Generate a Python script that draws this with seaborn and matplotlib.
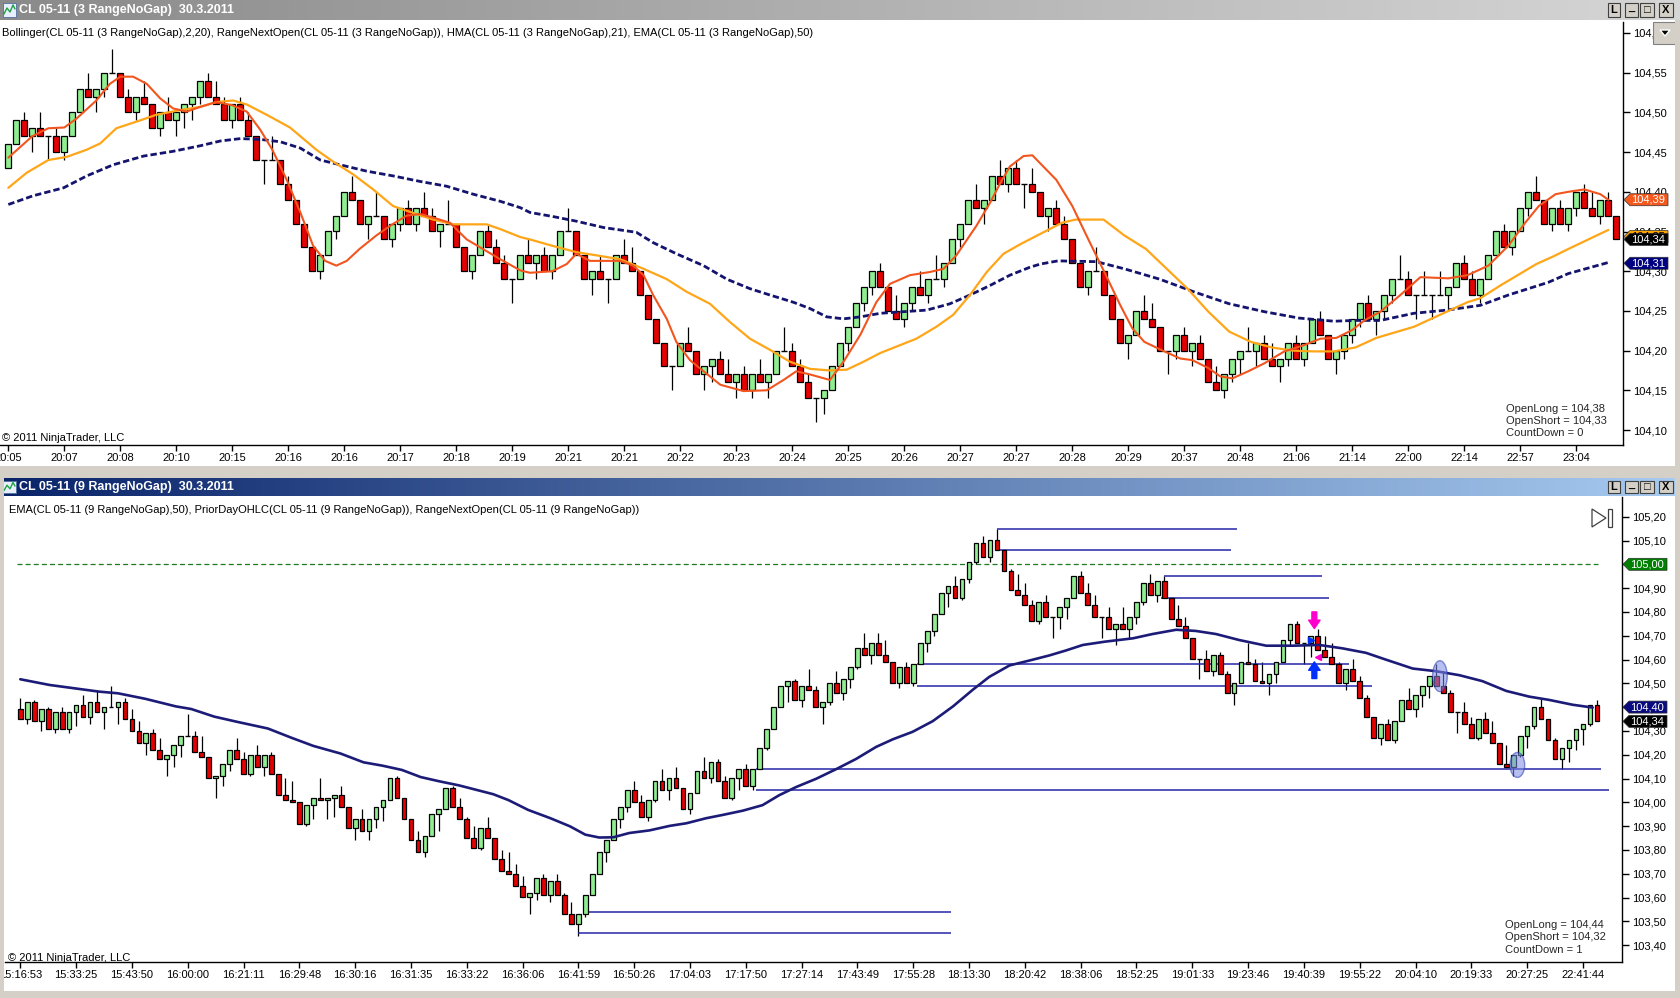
"""
NinjaTrader style double chart: CL 05-11, 3 and 9 RangeNoGap bars.
Top: candles with HMA(21), SMA(20) and EMA(50).
Bottom: candles with EMA(50) and prior-day / range lines.
"""

import numpy as np
import pandas as pd
import matplotlib
matplotlib.use("Agg")
import matplotlib.pyplot as plt
from matplotlib.patches import Rectangle, Ellipse, Polygon
from matplotlib.colors import LinearSegmentedColormap
import seaborn as sns

W, H = 1680, 998

# DATA #########################################################################
# top chart (3 RangeNoGap): prices in ticks of 0.01 above TOP_BASE
TOP_BASE = 104.18
TOP_OPEN0 = 25
top_close = [28, 31, 29, 30, 29, 29, 27, 29, 32, 35,
             34, 35, 37, 37, 34, 32, 34, 33, 30, 32,
             31, 32, 33, 34, 36, 34, 33, 31, 33, 31,
             29, 26, 26, 26, 23, 21, 18, 15, 12, 14,
             17, 19, 22, 21, 18, 19, 19, 16, 18, 20,
             18, 20, 19, 17, 18, 18, 15, 12, 14, 17,
             15, 13, 11, 11, 14, 13, 14, 12, 14, 17,
             17, 14, 11, 12, 11, 11, 14, 13, 12, 9,
             6, 3, 0, 0, 3, 2, -1, 0, 1, -1,
             -2, -1, -3, -1, -2, -1, 2, 2, 0, -2,
             -4, -4, -3, 0, 3, 5, 8, 10, 12, 10,
             7, 6, 8, 10, 9, 11, 11, 13, 16, 18,
             21, 20, 21, 24, 23, 25, 23, 23, 22, 19,
             20, 18, 16, 13, 10, 12, 12, 9, 6, 3,
             4, 7, 6, 5, 2, 2, 4, 2, 3, 1,
             -2, -3, -1, 1, 2, 2, 3, 1, 0, 1,
             3, 1, 3, 6, 4, 1, 2, 4, 6, 8,
             6, 7, 9, 11, 11, 9, 9, 9, 9, 9,
             10, 13, 11, 9, 11, 14, 17, 15, 17, 20,
             22, 21, 18, 20, 18, 20, 22, 20, 19, 21,
             19, 16]
# far end of the wick (opposite the close)
top_wick = [25, 28, 32, 27, 32, 26, 30, 26, 29, 32,
            37, 32, 34, 40, 37, 35, 31, 36, 33, 29,
            34, 29, 30, 31, 33, 37, 36, 34, 30, 34,
            32, 29, 23, 29, 26, 24, 21, 18, 15, 11,
            14, 16, 19, 24, 21, 16, 22, 19, 15, 17,
            21, 17, 22, 20, 15, 21, 18, 15, 11, 14,
            18, 16, 14, 8, 11, 16, 11, 15, 11, 14,
            20, 17, 14, 9, 14, 8, 11, 16, 15, 12,
            9, 6, 3, -3, 0, 5, 2, -3, -2, 2,
            1, -4, 0, -4, 1, -4, -1, 5, 3, 1,
            -1, -7, -6, -3, 0, 2, 5, 7, 9, 13,
            10, 9, 5, 7, 12, 8, 14, 10, 13, 15,
            18, 23, 18, 21, 26, 22, 26, 20, 25, 22,
            17, 21, 19, 16, 13, 9, 15, 12, 9, 6,
            1, 4, 9, 8, 5, -1, 1, 5, 0, 4,
            1, 0, -4, -2, -1, 5, 0, 4, 3, -2,
            0, 4, 0, 3, 7, 4, -1, 1, 3, 5,
            9, 4, 6, 8, 14, 12, 6, 12, 6, 12,
            7, 10, 14, 12, 8, 11, 14, 18, 14, 17,
            19, 24, 21, 17, 21, 17, 19, 23, 22, 18,
            22, 19]

# indicator lines (bar index, ticks above TOP_BASE)
hma_bar = [0, 3, 5, 7, 8.5, 11, 12.7, 14, 15.6, 17.3, 19, 20.6, 22.3, 24, 26, 28,
           29.8, 31.5, 33, 34.8, 36.5, 38.1, 39.6, 41, 42.3, 43.9, 46, 48, 49.8,
           51.5, 53.1, 55.2, 57.3, 59.4, 61.5, 64, 65.2, 68, 69.8, 71, 72.7, 74.4,
           76.5, 78.1, 79.4, 80.6, 82.3, 83.5, 85.2, 86.9, 89, 91.9, 94.8, 96.9,
           98.5, 100.2, 102.7, 104.4, 106.5, 108.5, 110.2, 112.7, 115.2, 116.9,
           118.5, 121, 122.7, 124, 125.2, 126.9, 128, 131, 133, 135, 137, 139,
           140.5, 142, 144.5, 146.5, 148, 150, 151.5, 153, 155, 157, 159.5, 162,
           164, 166, 168, 169.5, 171.5, 174, 176.5, 180, 182.4, 185, 187.5, 189.6,
           191.3, 193.4, 195, 197, 199, 200]
hma_tick = [26.3, 29.0, 30.0, 30.1, 31.2, 33.5, 35.6, 36.5, 36.5, 35.6, 33.75, 32.5,
            32.1, 32.7, 33.3, 32.9, 32.1, 29.8, 27.3, 23.5, 19.4, 15.2, 13.3, 12.7,
            13.3, 14.8, 16.5, 17.9, 19.0, 19.2, 18.75, 18.1, 16.0, 14.75, 13.5, 12.1,
            11.8, 12.0, 12.9, 14.2, 13.3, 13.3, 13.3, 12.7, 11.5, 9.0, 6.0, 3.1, 0.8,
            -0.6, -2.3, -3.1, -3.0, -1.7, -0.6, -1.0, -1.7, 0.6, 4.0, 8.1, 10.4, 11.5,
            11.9, 12.3, 14.0, 17.7, 20.6, 23.1, 25.2, 26.5, 26.6, 23.5, 20.2, 16.0,
            11.9, 7.7, 4.8, 3.1, 1.9, 1.0, 0.8, -0.2, -1.25, -1.5, -0.6, 0.4, 1.9,
            2.7, 3.5, 3.6, 4.6, 5.8, 6.9, 9.0, 11.25, 11.1, 11.5, 12.7, 15.2, 18.1,
            20.2, 21.7, 22.0, 22.3, 21.7, 21.0]
sma_bar = [0, 2.3, 5, 7.3, 9.8, 11.5, 13.5, 16.5, 18.5, 21.5, 24, 26, 28.1, 29.8,
           32.3, 35.2, 38.5, 40.6, 43.1, 45.6, 48.1, 51, 53.1, 55.6, 58.1, 59.8,
           61.5, 64, 65.2, 68, 71, 73.5, 76.5, 79.4, 82.3, 84.8, 87.7, 90.2, 92.7,
           95.2, 97.7, 100.2, 102.7, 104.8, 106.9, 109, 111, 113.5, 116, 118.1,
           120.2, 122.3, 124.4, 126.5, 129, 131.7, 133.4, 136.9, 139.5, 142.2,
           144.8, 147.4, 150, 152.6, 155.3, 157.9, 160.5, 163.1, 165.7, 168.4, 171,
           175.7, 179.8, 182.4, 184, 186.5, 189, 191, 193.2, 195, 197.5, 200]
sma_tick = [22.5, 24.4, 26, 26.4, 27.3, 28.1, 30, 31, 31.7, 32.3, 32.7, 33.3, 33.5,
            33, 31.7, 30.1, 27.3, 25.8, 24.2, 22.3, 20.2, 19.2, 18.5, 17.9, 17.9,
            17.9, 17.3, 16.3, 16, 15.2, 14.4, 14, 13.5, 12.3, 11, 9.4, 7.9, 5.6, 3.5,
            2.1, 0.6, -0.3, -0.5, -0.4, 0.6, 1.7, 2.5, 3.5, 5, 6.5, 9, 11.9, 14.2,
            15.4, 16.7, 18.1, 18.5, 18.5, 16.5, 14.8, 12.3, 9.8, 6.9, 4.4, 3.1, 2.4,
            2, 1.9, 1.9, 2.4, 3.6, 5, 6.9, 8.1, 8.6, 10.2, 11.7, 12.9, 13.9, 14.8,
            16, 17.2]
ema_bar = [0, 3.1, 6.9, 9.8, 13.1, 16.9, 20.6, 24, 26.5, 29, 31.5, 34, 36.5, 39,
           41.9, 44.8, 48.1, 51.5, 54.8, 58.1, 61.5, 64, 65.2, 68, 71, 74.4, 78.5,
           80.6, 83.5, 86.9, 89.8, 92.7, 95.2, 98.1, 100.2, 102.3, 104.4, 106.5,
           109, 111.9, 114.8, 117.7, 120.2, 122.7, 125.2, 127.7, 129, 131.2, 136,
           139.5, 143.9, 148.2, 152.6, 157, 161.3, 165.7, 168.3, 171.5, 175.7,
           179.8, 184, 187.5, 190, 192.5, 195, 197.5, 200]
ema_tick = [20.4, 21.5, 22.5, 24, 25.4, 26.5, 27.1, 27.8, 28.4, 28.7, 28.6, 28.3,
            27.5, 26, 25.3, 24.6, 24, 23.3, 22.7, 21.7, 20.8, 20, 19.4, 18.9, 18.3,
            17.5, 16.9, 15.6, 14.2, 12.7, 11, 9.8, 9, 8.1, 7.3, 6.25, 6, 6.25, 6.7,
            6.9, 7.1, 7.9, 9, 10.2, 11.5, 12.5, 12.9, 13.3, 13.2, 12.3, 11, 9.4, 7.9,
            6.9, 6.1, 5.7, 5.8, 5.8, 6.7, 7.1, 7.7, 9, 9.8, 10.6, 11.7, 12.4, 13.1]

top_times = ["20:05", "20:07", "20:08", "20:10", "20:15", "20:16", "20:16", "20:17",
             "20:18", "20:19", "20:21", "20:21", "20:22", "20:23", "20:24", "20:25",
             "20:26", "20:27", "20:27", "20:28", "20:29", "20:37", "20:48", "21:06",
             "21:14", "22:00", "22:14", "22:57", "23:04"]
top_price_ticks = [104.10, 104.15, 104.20, 104.25, 104.30, 104.35, 104.40,
                   104.45, 104.50, 104.55, 104.60]
top_tags = [(104.39, "#F4581C", "white"), (104.35, "#FFA500", "black"),
            (104.34, "black", "white"), (104.31, "#000080", "white")]
top_info = ["OpenLong = 104,38", "OpenShort = 104,33", "CountDown = 0"]

# bottom chart (9 RangeNoGap): ticks of 0.01 above BOT_BASE
BOT_BASE = 103.40
BOT_OPEN0 = 99
bot_close = [95, 102, 94, 99, 91, 98, 91, 98, 101, 96,
             102, 98, 100, 100, 102, 95, 90, 85, 89, 82,
             78, 80, 84, 88, 88, 81, 79, 70, 71, 76,
             82, 78, 72, 80, 75, 80, 72, 63, 61, 60,
             51, 59, 62, 61, 62, 63, 58, 49, 53, 48,
             53, 58, 61, 70, 62, 53, 44, 39, 46, 55,
             57, 66, 58, 53, 45, 41, 49, 45, 36, 31,
             30, 25, 20, 22, 28, 21, 27, 21, 13, 9,
             13, 21, 30, 39, 44, 53, 58, 65, 60, 54,
             61, 69, 65, 70, 66, 57, 64, 73, 70, 77,
             69, 62, 70, 74, 67, 74, 83, 91, 100, 109,
             111, 103, 109, 107, 100, 102, 110, 106, 112, 117,
             125, 122, 127, 122, 119, 110, 117, 110, 118, 127,
             132, 139, 148, 151, 146, 154, 161, 169, 163, 170,
             166, 157, 149, 147, 143, 136, 144, 138, 138, 142,
             146, 155, 148, 143, 138, 138, 133, 135, 133, 138,
             144, 152, 147, 153, 146, 137, 134, 129, 120, 120,
             115, 122, 114, 106, 110, 119, 118, 111, 110, 114,
             119, 128, 135, 127, 127, 130, 124, 121, 118, 110,
             116, 111, 104, 96, 87, 93, 86, 94, 103, 99,
             105, 109, 113, 109, 106, 98, 98, 93, 87, 95,
             89, 85, 76, 75, 80, 88, 92, 100, 95, 86,
             78, 83, 86, 91, 93, 101, 94]
bot_wick = [104, 93, 103, 90, 100, 89, 100, 89, 92, 105,
            93, 107, 91, 109, 93, 104, 99, 94, 80, 91,
            87, 71, 75, 79, 97, 90, 88, 79, 62, 67,
            73, 87, 81, 71, 84, 71, 81, 72, 70, 69,
            60, 50, 53, 70, 53, 54, 67, 58, 44, 57,
            44, 49, 52, 61, 71, 62, 53, 48, 37, 46,
            48, 57, 67, 62, 54, 50, 40, 54, 45, 40,
            39, 34, 29, 13, 19, 30, 18, 30, 22, 18,
            4, 12, 21, 30, 35, 44, 49, 56, 69, 63,
            52, 60, 74, 61, 75, 66, 55, 64, 79, 68,
            78, 71, 61, 65, 76, 65, 74, 82, 91, 100,
            102, 112, 100, 116, 109, 93, 101, 115, 103, 108,
            116, 131, 118, 131, 128, 119, 108, 119, 109, 118,
            123, 130, 139, 142, 155, 145, 152, 160, 172, 161,
            175, 166, 158, 156, 152, 145, 135, 147, 129, 133,
            137, 146, 157, 152, 147, 129, 142, 126, 142, 129,
            135, 143, 156, 144, 155, 146, 143, 138, 129, 112,
            124, 113, 123, 115, 101, 110, 127, 120, 119, 105,
            110, 119, 126, 136, 118, 121, 133, 130, 127, 119,
            107, 120, 113, 105, 96, 84, 95, 85, 94, 108,
            96, 100, 104, 118, 115, 107, 89, 102, 96, 86,
            98, 94, 85, 84, 71, 79, 83, 91, 104, 95,
            87, 74, 77, 82, 84, 92, 103]
bema_bar = [0, 4.2, 11.3, 14, 17.9, 22.3, 24.5, 27.8, 31.1, 35.5, 38.8, 42, 45.9,
            49.2, 51.9, 54.7, 57.4, 60.1, 62.9, 67.8, 70, 72.8, 76, 78.8, 81, 83,
            85, 87.3, 90.2, 93.1, 95.5, 98.3, 100.7, 103.6, 106.4, 108.8, 111.2,
            114.1, 117, 119.8, 122.7, 125.1, 127.9, 130.8, 133.7, 136.5, 138.9,
            141.8, 144.7, 147.5, 149.9, 152.3, 155.5, 159.5, 162.3, 165.7, 168.5,
            171.4, 174.7, 178.6, 182.4, 186.2, 189.5, 192.9, 195.7, 199.6, 202.9,
            206.3, 209.6, 213, 216.3, 219.2, 222.5, 225.4]
bema_tick = [111.7, 109.3, 106.5, 105.8, 103.5, 100.3, 99.2, 96, 93.8, 91, 87.2,
             83.7, 80.5, 76.8, 75.4, 73.6, 70.6, 68.8, 67.1, 63.4, 60.9, 56.8, 53.3,
             49.9, 46.4, 45.2, 45.3, 47.1, 48.2, 50.1, 51.2, 53.3, 54.7, 56.5, 58.8,
             63, 66.4, 69.9, 74, 78.2, 83.3, 86.5, 89.6, 94.1, 100.3, 107.2, 112.7,
             117.5, 119.6, 121.7, 123.8, 126.1, 127.5, 128.9, 130.7, 132.5, 132,
             130.7, 128.2, 125.8, 125.8, 126.1, 124.7, 122.8, 120, 116.2, 115.1,
             113.4, 110.9, 106.8, 104.4, 103, 101, 99.8]
# horizontal level segments (ticks, first bar, last bar)
seg_tick = [175, 166, 155, 146, 118, 109, 74, 65, 14, 5]
seg_from = [140, 140.5, 164, 163.5, 128.5, 128.5, 105.4, 105.4, 80.8, 80]
seg_to = [174.4, 173.6, 186.6, 187.6, 190.5, 193.7, 226.6, 227.8, 133.4, 133.4]
LEVEL_105 = 105.00
# marked bars (bar, ticks center, ticks height)
circle_bar = [203.5, 214.6]
circle_tick = [113, 75.7]
circle_span = [13, 10.5]
# entry arrows around bar 185 (bar, tail ticks, tip ticks)
arrow_dn = (185.5, 140, 133)
arrow_up = (185.5, 112, 119)
tri_right = (185.0, 128.3)
tri_left = (186.0, 121.0)

bot_times = ["15:16:53", "15:33:25", "15:43:50", "16:00:00", "16:21:11", "16:29:48",
             "16:30:16", "16:31:35", "16:33:22", "16:36:06", "16:41:59", "16:50:26",
             "17:04:03", "17:17:50", "17:27:14", "17:43:49", "17:55:28", "18:13:30",
             "18:20:42", "18:38:06", "18:52:25", "19:01:33", "19:23:46", "19:40:39",
             "19:55:22", "20:04:10", "20:19:33", "20:27:25", "22:41:44"]
bot_price_ticks = [103.40, 103.50, 103.60, 103.70, 103.80, 103.90, 104.00, 104.10,
                   104.20, 104.30, 104.40, 104.50, 104.60, 104.70, 104.80, 104.90,
                   105.00, 105.10, 105.20]
bot_tags = [(105.00, "#008000", "white"), (104.40, "#0A0A80", "white"),
            (104.34, "black", "white")]
bot_info = ["OpenLong = 104,44", "OpenShort = 104,32", "CountDown = 1"]

TOP_TITLE = "CL 05-11 (3 RangeNoGap)  30.3.2011"
BOT_TITLE = "CL 05-11 (9 RangeNoGap)  30.3.2011"
TOP_LEGEND = ("Bollinger(CL 05-11 (3 RangeNoGap),2,20), RangeNextOpen(CL 05-11 "
              "(3 RangeNoGap)), HMA(CL 05-11 (3 RangeNoGap),21), EMA(CL 05-11 "
              "(3 RangeNoGap),50)")
BOT_LEGEND = ("EMA(CL 05-11 (9 RangeNoGap),50), PriorDayOHLC(CL 05-11 (9 RangeNoGap)), "
              "RangeNextOpen(CL 05-11 (9 RangeNoGap))")
COPYRIGHT = "\u00a9 2011 NinjaTrader, LLC"

# STYLE ########################################################################
sns.set_theme(style="white")
plt.rcParams["font.family"] = ["Liberation Sans", "DejaVu Sans"]
plt.rcParams["axes.linewidth"] = 1.0

UP = "#90EE90"
DOWN = "#E60000"
FRAME = "#D4D0C8"
PINK = "#FF00CC"
BLUE = "#0030FF"


def px_axes(fig, x0, y0, x1, y1):
    return fig.add_axes([x0 / W, 1 - y1 / H, (x1 - x0) / W, (y1 - y0) / H])


def fig_rect(fig, x0, y0, x1, y1, **kw):
    fig.add_artist(Rectangle((x0 / W, 1 - y1 / H), (x1 - x0) / W, (y1 - y0) / H,
                             transform=fig.transFigure, **kw))


def fig_text(fig, x, y, s, **kw):
    fig.text(x / W, 1 - y / H, s, **kw)


def title_bar(fig, y0, y1, colors, title):
    ax = px_axes(fig, 0, y0, W, y1)
    cmap = LinearSegmentedColormap.from_list("bar", colors)
    ax.imshow(np.linspace(0, 1, 256)[None, :], cmap=cmap, aspect="auto",
              extent=(0, 1, 0, 1))
    ax.set_axis_off()
    # small window icon
    ax.add_patch(Rectangle((3 / W, 0.15), 13 / W, 0.7, transform=ax.transAxes,
                           fc="#E8F0FF", ec="#5070A0", lw=0.6))
    ax.plot(np.array([4, 7, 10, 13, 15]) / W, [0.3, 0.6, 0.4, 0.75, 0.55],
            transform=ax.transAxes, color="#20A040", lw=1)
    ax.text(19 / W, 0.5, title, transform=ax.transAxes, ha="left", va="center",
            color="white", fontsize=9, fontweight="bold")
    for (bx0, bx1), glyph in zip([(1608, 1620), (1625, 1638), (1640, 1654), (1659, 1673)],
                                 ["L", "_", "\u25a1", "X"]):
        ax.add_patch(Rectangle((bx0 / W, 0.15), (bx1 - bx0) / W, 0.7,
                               transform=ax.transAxes, fc=FRAME, ec="#404040", lw=0.8))
        ax.text((bx0 + bx1) / 2 / W, 0.5 if glyph != "_" else 0.62, glyph,
                transform=ax.transAxes, ha="center", va="center", fontsize=8,
                fontweight="bold", color="black")


def draw_candles(ax, base, open0, closes, wicks, width):
    ct = np.asarray(closes)
    ot = np.concatenate([[open0], ct[:-1]])
    wt = np.asarray(wicks)
    c = base + 0.01 * ct
    o = base + 0.01 * ot
    hi = base + 0.01 * np.maximum.reduce([ot, ct, wt])
    lo = base + 0.01 * np.minimum.reduce([ot, ct, wt])
    x = np.arange(len(ct))
    ax.vlines(x, lo, hi, color="black", lw=0.9, zorder=2)
    up, dn, dj = ct > ot, ct < ot, ct == ot
    ax.bar(x[up], (c - o)[up], bottom=o[up], width=width, color=UP,
           edgecolor="black", lw=0.9, zorder=3)
    ax.bar(x[dn], (o - c)[dn], bottom=c[dn], width=width, color=DOWN,
           edgecolor="black", lw=0.9, zorder=3)
    ax.hlines(c[dj], x[dj] - width / 2, x[dj] + width / 2, color="black",
              lw=1.0, zorder=3)


def price_tag(ax, price, label, fc, tc, dy_px=0.0):
    pos = ax.get_position()
    w_px, h_px = pos.width * W, pos.height * H
    y0, y1 = ax.get_ylim()
    ys = (y1 - y0) / h_px
    xs = 1.0 / w_px
    p = price - dy_px * ys
    pts = [(1 + 1 * xs, p), (1 + 7 * xs, p + 6 * ys), (1 + 45 * xs, p + 6 * ys),
           (1 + 45 * xs, p - 6 * ys), (1 + 7 * xs, p - 6 * ys)]
    tr = ax.get_yaxis_transform()
    ax.add_patch(Polygon(pts, closed=True, transform=tr, clip_on=False, fc=fc,
                         ec="#303030", lw=0.5, zorder=8))
    ax.text(1 + 8 * xs, p, label, transform=tr, ha="left", va="center",
            fontsize=8, color=tc, zorder=9, clip_on=False)


def style_axes(ax, ticks, labels, xt, xl):
    for side in ["left", "top"]:
        ax.spines[side].set_visible(False)
    for side in ["right", "bottom"]:
        ax.spines[side].set_color("black")
        ax.spines[side].set_linewidth(1.0)
    ax.set_facecolor("white")
    ax.yaxis.tick_right()
    ax.set_yticks(ticks)
    ax.set_yticklabels(labels)
    ax.set_xticks(xt)
    ax.set_xticklabels(xl)
    ax.tick_params(axis="y", right=True, left=False, direction="out", length=5,
                   width=1, pad=2, labelsize=8, colors="black")
    ax.tick_params(axis="x", bottom=True, direction="out", length=4, width=1,
                   pad=2, labelsize=8, colors="black")
    ax.grid(False)


def fmt(p):
    return f"{p:.2f}".replace(".", ",")


def main():
    fig = plt.figure(figsize=(W / 100, H / 100), dpi=100)
    fig.patch.set_facecolor(FRAME)

    # window client areas
    fig_rect(fig, 0, 20, 1675, 467, fc="white", ec="none", zorder=-5)
    fig_rect(fig, 4, 496, 1675, 991, fc="white", ec="none", zorder=-5)

    title_bar(fig, 0, 20, ["#8A8A8A", "#D6D6D6"], TOP_TITLE)
    title_bar(fig, 478, 496, ["#0A246A", "#A6CAF0"], BOT_TITLE)

    # TOP CHART ################################################################
    ax1 = px_axes(fig, 0, 22, 1623, 445)
    ax1.set_xlim(-1.04, 201.83)
    ax1.set_ylim(104.10 + (430 - 445) / 794, 104.10 + (430 - 22) / 794)
    draw_candles(ax1, TOP_BASE, TOP_OPEN0, top_close, top_wick, 0.75)

    df_sma = pd.DataFrame({"bar": sma_bar, "price": TOP_BASE + 0.01 * np.array(sma_tick)})
    df_hma = pd.DataFrame({"bar": hma_bar, "price": TOP_BASE + 0.01 * np.array(hma_tick)})
    df_ema = pd.DataFrame({"bar": ema_bar, "price": TOP_BASE + 0.01 * np.array(ema_tick)})
    sns.lineplot(data=df_ema, x="bar", y="price", ax=ax1, color="#14146E", lw=2.0,
                 sort=False, estimator=None, zorder=4)
    ax1.lines[-1].set_linestyle((0, (2.3, 1.1)))
    sns.lineplot(data=df_sma, x="bar", y="price", ax=ax1, color="#FFA518", lw=1.6,
                 sort=False, estimator=None, zorder=4)
    sns.lineplot(data=df_hma, x="bar", y="price", ax=ax1, color="#F2551E", lw=1.5,
                 sort=False, estimator=None, zorder=5)
    ax1.set(xlabel="", ylabel="")

    style_axes(ax1, top_price_ticks, [fmt(p) for p in top_price_ticks],
               np.arange(len(top_times)) * 7, top_times)
    for price, fc, tc in top_tags:
        price_tag(ax1, price, fmt(price), fc, tc, dy_px=5 if fc == "#FFA500" else 0)

    ax1.text(2 / 1623, 1 - 11 / 423, TOP_LEGEND, transform=ax1.transAxes,
             ha="left", va="center", fontsize=8, color="black")
    ax1.text(2 / 1623, 7 / 423, COPYRIGHT, transform=ax1.transAxes,
             ha="left", va="center", fontsize=8, color="black")
    for i, s in enumerate(top_info):
        fig_text(fig, 1506, 409 + 12 * i, s, ha="left", va="center", fontsize=8)

    # dropdown button
    fig_rect(fig, 1653, 22, 1676, 44, fc=FRAME, ec="#808080", lw=0.8, zorder=5)
    fig.add_artist(Polygon([(1660 / W, 1 - 30 / H), (1670 / W, 1 - 30 / H),
                            (1665 / W, 1 - 36 / H)], closed=True,
                           transform=fig.transFigure, fc="black", zorder=6))

    # BOTTOM CHART #############################################################
    ax2 = px_axes(fig, 5, 497, 1622, 962)
    ax2.set_xlim(-2.19, 229.6)
    ax2.set_ylim(105.20 - (962 - 516.7) / 238, 105.20 + (516.7 - 497) / 238)
    draw_candles(ax2, BOT_BASE, BOT_OPEN0, bot_close, bot_wick, 0.68)

    ax2.hlines(LEVEL_105, -0.5, 226.2, color="#1E7A1E", lw=0.9,
               linestyles=(0, (4, 2.5)), zorder=1)
    ax2.hlines(BOT_BASE + 0.01 * np.array(seg_tick), seg_from, seg_to,
               color="#2424A8", lw=1.1, zorder=2)

    df_bema = pd.DataFrame({"bar": bema_bar, "price": BOT_BASE + 0.01 * np.array(bema_tick)})
    sns.lineplot(data=df_bema, x="bar", y="price", ax=ax2, color="#1C1C78", lw=1.9,
                 sort=False, estimator=None, zorder=5)
    ax2.set(xlabel="", ylabel="")

    for b, t, s in zip(circle_bar, circle_tick, circle_span):
        ax2.add_patch(Ellipse((b, BOT_BASE + 0.01 * t), 2.1, 0.01 * s,
                              fc="#7D8CE6", ec="#2A3AB0", alpha=0.55, lw=1, zorder=6))

    arrow_style = "simple,head_length=0.55,head_width=0.75,tail_width=0.32"
    for (bx, tail, tip), col in [(arrow_dn, PINK), (arrow_up, BLUE)]:
        ax2.annotate("", xy=(bx, BOT_BASE + 0.01 * tip),
                     xytext=(bx, BOT_BASE + 0.01 * tail),
                     arrowprops=dict(arrowstyle=arrow_style, fc=col, ec=col,
                                     mutation_scale=11, shrinkA=0, shrinkB=0),
                     zorder=7)
    ax2.plot(tri_right[0], BOT_BASE + 0.01 * tri_right[1], marker=">", ms=4.5,
             color=BLUE, zorder=7)
    ax2.plot(tri_left[0], BOT_BASE + 0.01 * tri_left[1], marker="<", ms=4.5,
             color=PINK, zorder=7)

    style_axes(ax2, bot_price_ticks, [fmt(p) for p in bot_price_ticks],
               np.arange(len(bot_times)) * 8, bot_times)
    for price, fc, tc in bot_tags:
        price_tag(ax2, price, fmt(price), fc, tc)

    ax2.text(4 / 1617, 1 - 13 / 465, BOT_LEGEND, transform=ax2.transAxes,
             ha="left", va="center", fontsize=8, color="black")
    ax2.text(3 / 1617, 4 / 465, COPYRIGHT, transform=ax2.transAxes,
             ha="left", va="center", fontsize=8, color="black")
    for i, s in enumerate(bot_info):
        fig_text(fig, 1505, 925 + 12.5 * i, s, ha="left", va="center", fontsize=8)

    # "scroll to end" icon
    fig.add_artist(Polygon([(1592 / W, 1 - 509 / H), (1592 / W, 1 - 527 / H),
                            (1606 / W, 1 - 518 / H)], closed=True, fill=False,
                           ec="#404040", lw=0.9, transform=fig.transFigure, zorder=6))
    fig_rect(fig, 1608, 509, 1612, 527, fc="white", ec="#404040", lw=0.9, zorder=6)

    # window frames (the lower left border hides the clipped first label)
    fig_rect(fig, 0, 478, 4, 998, fc=FRAME, ec="none", zorder=10)
    fig_rect(fig, 0, 466, W, 478, fc=FRAME, ec="none", zorder=10)
    fig_rect(fig, 1675, 20, W, 998, fc=FRAME, ec="none", zorder=10)

    fig.savefig("out.png", dpi=100, facecolor=fig.get_facecolor())


if __name__ == "__main__":
    main()
